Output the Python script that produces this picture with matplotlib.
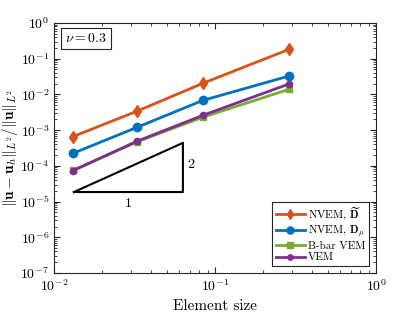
import matplotlib
matplotlib.use("Agg")
import matplotlib.pyplot as plt

plt.rcParams['font.family'] = 'serif'
plt.rcParams['font.serif'] = ['cmr10']
plt.rcParams['mathtext.fontset'] = 'cm'
plt.rcParams['axes.formatter.use_mathtext'] = True

h = [0.0131, 0.0328, 0.084, 0.288]
nvem_dt = [6.6e-4, 3.4e-3, 2.05e-2, 1.83e-1]
nvem_dmu = [2.24e-4, 1.2e-3, 6.8e-3, 3.28e-2]
bbar = [7.5e-5, 4.7e-4, 2.3e-3, 1.39e-2]
vem = [7.3e-5, 4.9e-4, 2.6e-3, 1.96e-2]

tri_x = [0.0133, 0.0632, 0.0632, 0.0133]
tri_y = [1.85e-5, 1.85e-5, 4.4e-4, 1.85e-5]

fig = plt.figure(figsize=(4.15, 3.12), dpi=100)
ax = fig.add_axes([54/415, 1-273/312, 322/415, 250/312])

ax.plot(h, nvem_dt, '-d', color='#D95319', lw=2, ms=6.5, label=r'NVEM, $\widetilde{\mathbf{D}}$')
ax.plot(h, nvem_dmu, '-o', color='#0072BD', lw=2, ms=6, label=r'NVEM, $\mathbf{D}_\mu$')
ax.plot(h, bbar, '-s', color='#77AC30', lw=2, ms=4.5, label='B-bar VEM')
ax.plot(h, vem, '-o', color='#7E2F8E', lw=2, ms=4.5, label='VEM')
ax.plot(tri_x, tri_y, '-', color='k', lw=1.5)
ax.text(0.029, 1.3e-5, '1', ha='center', va='top', fontsize=10)
ax.text(0.067, 1.05e-4, '2', ha='left', va='center', fontsize=10)

ax.set_xscale('log')
ax.set_yscale('log')
ax.set_xlim(1e-2, 1)
ax.set_ylim(1e-7, 1)
ax.set_xlabel('Element size', fontsize=11)
ax.set_ylabel(r'$\|\mathbf{u}-\mathbf{u}_h\|_{L^2}/\|\mathbf{u}\|_{L^2}$', fontsize=11)
ax.yaxis.set_label_coords(-0.106, 0.5)
ax.tick_params(which='both', direction='in', top=True, right=True, labelsize=10, color='#262626')
ax.tick_params(which='major', length=4)
ax.tick_params(which='minor', length=2)
for s in ax.spines.values():
    s.set_color('#262626')
    s.set_linewidth(0.8)

ax.text(0.035, 0.965, r'$\nu = 0.3$', transform=ax.transAxes, fontsize=10, va='top', ha='left',
        bbox=dict(boxstyle='square,pad=0.3', fc='white', ec='#262626', lw=0.8))

leg = ax.legend(loc='lower right', fontsize=8, fancybox=False, edgecolor='#262626',
                framealpha=1, borderaxespad=0.6, handlelength=2.6, labelspacing=0.12,
                borderpad=0.35, handletextpad=0.3, markerscale=0.85)
leg.get_frame().set_linewidth(0.8)

fig.savefig('out.png', dpi=100)
